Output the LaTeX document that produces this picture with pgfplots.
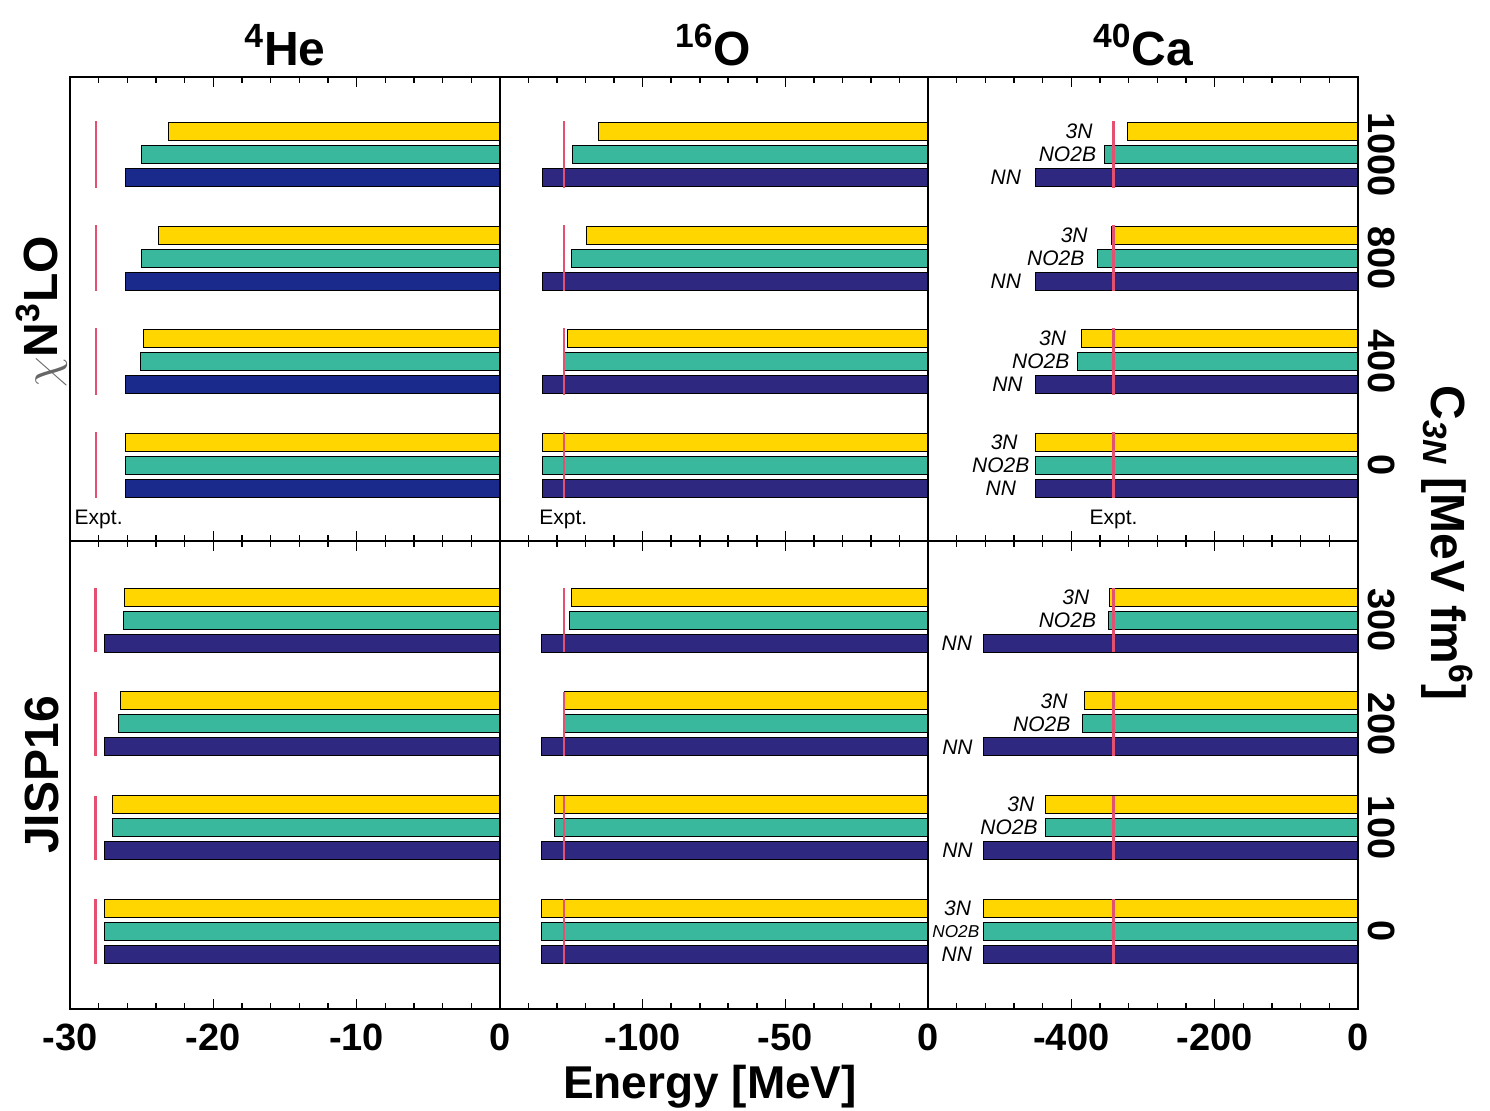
\documentclass[border=0pt]{standalone}
\usepackage{fontspec}
\setmainfont{Liberation Sans}
\usepackage{pgfplots}
\usepackage{pgfplotstable}
\pgfplotsset{compat=1.18}
\definecolor{cyel}{RGB}{255,214,0}
\definecolor{cgrn}{RGB}{58,184,158}
\definecolor{cnav}{RGB}{46,40,128}
\definecolor{cnavb}{RGB}{26,42,140}
\definecolor{cexp}{RGB}{228,80,112}

% columns: c = group position (0,1,2,3), nn, no2b, tn (energies in MeV)
\pgfplotstableread{
c nn no2b tn
0 -26.1 -26.1 -26.1
1 -26.1 -25.1 -24.9
2 -26.1 -25.0 -23.8
3 -26.1 -25.0 -23.1
}\chiHe
\pgfplotstableread{
c nn no2b tn
0 -135.1 -135.1 -135.1
1 -135.1 -127.4 -126.3
2 -135.1 -125.1 -119.6
3 -135.1 -124.5 -115.4
}\chiO
\pgfplotstableread{
c nn no2b tn
0 -450 -450 -450
1 -450 -391 -386
2 -450 -362.8 -343.7
3 -450 -353.5 -321
}\chiCa
\pgfplotstableread{
c nn no2b tn
0 -27.6 -27.6 -27.6
1 -27.6 -27.0 -27.0
2 -27.6 -26.6 -26.5
3 -27.6 -26.3 -26.2
}\jHe
\pgfplotstableread{
c nn no2b tn
0 -135.6 -135.6 -135.6
1 -135.6 -130.9 -130.9
2 -135.6 -127.4 -127.4
3 -135.6 -125.6 -125.1
}\jO
\pgfplotstableread{
c nn no2b tn
0 -523 -523 -522.5
1 -523 -435.8 -435.8
2 -523 -384.1 -381.8
3 -523 -348.8 -347
}\jCa

\tikzset{
  lbl/.style={font=\itshape\fontsize{10.5}{10.5}\selectfont, anchor=east, inner sep=0pt},
  elbl/.style={font=\fontsize{10.5}{10.5}\selectfont, inner sep=0pt},
}
\pgfplotsset{
  panel/.style={
    scale only axis, xmax=0,
    axis line style={line width=1pt},
    tick style={black, line width=0.8pt},
    major tick length=5pt, minor tick length=3pt,
    tick align=inside, xtick pos=both, xticklabel pos=bottom,
    ytick=\empty, minor x tick num=4, clip=false, axis on top,
    ticklabel style={font=\bfseries\fontsize{19}{19}\selectfont},
    xticklabel style={inner sep=0pt, yshift=-7.5pt},
  },
  toprow/.style={height=232pt, ymin=-0.734, ymax=3.749, xticklabels={,,,,}},
  botrow/.style={height=234pt, ymin=-0.747, ymax=3.762},
  bY/.style={xbar, bar width=9pt, bar shift=11.5pt, fill=cyel, draw=black, line width=0.5pt},
  bG/.style={xbar, bar width=9pt, bar shift=0pt, fill=cgrn, draw=black, line width=0.5pt},
  bN/.style={xbar, bar width=9pt, bar shift=-11.5pt, fill=cnav, draw=black, line width=0.5pt},
  ex/.style={cexp, line width=1.3pt, unbounded coords=jump, mark=none},
  rlab/.style={ytick={0,1,2,3}, yticklabel pos=right, ytick style={draw=none},
    yticklabel style={rotate=-90, anchor=south, inner sep=0pt, yshift=5pt}},
}

\begin{document}
\begin{tikzpicture}
% ---------------- top row: chi N3LO ----------------
\begin{axis}[panel, toprow, at={(35pt,284.5pt)}, anchor=south west, width=215pt,
  xmin=-30, xtick={-30,-20,-10,0}]
  \addplot[bN, fill=cnavb] table[x=nn, y=c] {\chiHe};
  \addplot[bG] table[x=no2b, y=c] {\chiHe};
  \addplot[bY] table[x=tn, y=c] {\chiHe};
  \addplot[ex] coordinates {(-28.2,-0.32) (-28.2,0.32) (nan,nan) (-28.2,0.68) (-28.2,1.32) (nan,nan) (-28.2,1.68) (-28.2,2.32) (nan,nan) (-28.2,2.68) (-28.2,3.32)};
  \node[elbl] at (axis cs:-28,-0.53) {Expt.};
\end{axis}
\begin{axis}[panel, toprow, at={(250pt,284.5pt)}, anchor=south west, width=214pt,
  xmin=-150, xtick={-150,-100,-50,0}]
  \addplot[bN] table[x=nn, y=c] {\chiO};
  \addplot[bG] table[x=no2b, y=c] {\chiO};
  \addplot[bY] table[x=tn, y=c] {\chiO};
  \addplot[ex] coordinates {(-127.6,-0.32) (-127.6,0.32) (nan,nan) (-127.6,0.68) (-127.6,1.32) (nan,nan) (-127.6,1.68) (-127.6,2.32) (nan,nan) (-127.6,2.68) (-127.6,3.32)};
  \node[elbl] at (axis cs:-127.8,-0.53) {Expt.};
\end{axis}
\begin{axis}[panel, toprow, rlab, at={(464pt,284.5pt)}, anchor=south west, width=215pt,
  xmin=-600, xtick={-600,-400,-200,0}, yticklabels={0,400,800,1000}]
  \addplot[bN] table[x=nn, y=c] {\chiCa};
  \addplot[bG] table[x=no2b, y=c] {\chiCa};
  \addplot[bY] table[x=tn, y=c] {\chiCa};
  \addplot[ex] coordinates {(-341,-0.32) (-341,0.32) (nan,nan) (-341,0.68) (-341,1.32) (nan,nan) (-341,1.68) (-341,2.32) (nan,nan) (-341,2.68) (-341,3.32)};
  \node[elbl] at (axis cs:-341,-0.53) {Expt.};
  \node[lbl] at (axis cs:-369.8,3) [yshift=11.5pt] {3N};
  \node[lbl] at (axis cs:-365,3) {NO2B};
  \node[lbl] at (axis cs:-469.7,3) [yshift=-11.5pt] {NN};
  \node[lbl] at (axis cs:-376.7,2) [yshift=11.5pt] {3N};
  \node[lbl] at (axis cs:-381.3,2) {NO2B};
  \node[lbl] at (axis cs:-469.7,2) [yshift=-11.5pt] {NN};
  \node[lbl] at (axis cs:-407,1) [yshift=11.5pt] {3N};
  \node[lbl] at (axis cs:-402.3,1) {NO2B};
  \node[lbl] at (axis cs:-467.4,1) [yshift=-11.5pt] {NN};
  \node[lbl] at (axis cs:-474.4,0) [yshift=11.5pt] {3N};
  \node[lbl] at (axis cs:-458.1,0) {NO2B};
  \node[lbl] at (axis cs:-476.7,0) [yshift=-11.5pt] {NN};
\end{axis}
% ---------------- bottom row: JISP16 ----------------
\begin{axis}[panel, botrow, at={(35pt,50.5pt)}, anchor=south west, width=215pt,
  xmin=-30, xtick={-30,-20,-10,0}, xticklabels={-30,-20,-10,0}]
  \addplot[bN] table[x=nn, y=c] {\jHe};
  \addplot[bG] table[x=no2b, y=c] {\jHe};
  \addplot[bY] table[x=tn, y=c] {\jHe};
  \addplot[ex] coordinates {(-28.2,-0.31) (-28.2,0.31) (nan,nan) (-28.2,0.69) (-28.2,1.31) (nan,nan) (-28.2,1.69) (-28.2,2.31) (nan,nan) (-28.2,2.69) (-28.2,3.31)};
\end{axis}
\begin{axis}[panel, botrow, at={(250pt,50.5pt)}, anchor=south west, width=214pt,
  xmin=-150, xtick={-150,-100,-50,0}, xticklabels={,-100,-50,0}]
  \addplot[bN] table[x=nn, y=c] {\jO};
  \addplot[bG] table[x=no2b, y=c] {\jO};
  \addplot[bY] table[x=tn, y=c] {\jO};
  \addplot[ex] coordinates {(-127.6,-0.31) (-127.6,0.31) (nan,nan) (-127.6,0.69) (-127.6,1.31) (nan,nan) (-127.6,1.69) (-127.6,2.31) (nan,nan) (-127.6,2.69) (-127.6,3.31)};
\end{axis}
\begin{axis}[panel, botrow, rlab, at={(464pt,50.5pt)}, anchor=south west, width=215pt,
  xmin=-600, xtick={-600,-400,-200,0}, xticklabels={,-400,-200,0}, yticklabels={0,100,200,300}]
  \addplot[bN] table[x=nn, y=c] {\jCa};
  \addplot[bG] table[x=no2b, y=c] {\jCa};
  \addplot[bY] table[x=tn, y=c] {\jCa};
  \addplot[ex] coordinates {(-341,-0.31) (-341,0.31) (nan,nan) (-341,0.69) (-341,1.31) (nan,nan) (-341,1.69) (-341,2.31) (nan,nan) (-341,2.69) (-341,3.31)};
  \node[lbl] at (axis cs:-374.4,3) [yshift=11.5pt] {3N};
  \node[lbl] at (axis cs:-365,3) {NO2B};
  \node[lbl] at (axis cs:-538.1,3) [yshift=-11.5pt] {NN};
  \node[lbl] at (axis cs:-404.7,2) [yshift=11.5pt] {3N};
  \node[lbl] at (axis cs:-400.9,2) {NO2B};
  \node[lbl] at (axis cs:-537.2,2) [yshift=-11.5pt] {NN};
  \node[lbl] at (axis cs:-451.1,1) [yshift=11.5pt] {3N};
  \node[lbl] at (axis cs:-446.5,1) {NO2B};
  \node[lbl] at (axis cs:-537.2,1) [yshift=-11.5pt] {NN};
  \node[lbl] at (axis cs:-539.5,0) [yshift=11.5pt] {3N};
  \node[lbl, font=\itshape\fontsize{8.6}{8.6}\selectfont] at (axis cs:-527.9,0) {NO2B};
  \node[lbl] at (axis cs:-538,0) [yshift=-11.5pt] {NN};
\end{axis}
% ---------------- outer labels ----------------
\node[anchor=base, font=\bfseries\fontsize{24}{24}\selectfont] at (142.5pt,522pt) {\textsuperscript{4}He};
\node[anchor=base, font=\bfseries\fontsize{24}{24}\selectfont] at (356.5pt,522pt) {\textsuperscript{16}O};
\node[anchor=base, font=\bfseries\fontsize{24}{24}\selectfont] at (571.5pt,522pt) {\textsuperscript{40}Ca};
\node[anchor=base, font=\bfseries\fontsize{23}{23}\selectfont] at (355pt,6pt) {Energy [MeV]};
\node[rotate=-90, font=\bfseries\fontsize{24}{24}\selectfont] at (723.5pt,283.5pt) {C\textsubscript{\itshape 3N} [MeV fm\textsuperscript{6}]};
\node[rotate=90, font=\bfseries\fontsize{24}{24}\selectfont] at (21pt,399pt) {\textcolor{black!60}{\mdseries$\chi$}N\textsuperscript{3}LO};
\node[rotate=90, font=\bfseries\fontsize{24}{24}\selectfont] at (21pt,167.5pt) {JISP16};
\pgfresetboundingbox
\path[use as bounding box] (0,0) rectangle (745pt,555pt);
\end{tikzpicture}
\end{document}
